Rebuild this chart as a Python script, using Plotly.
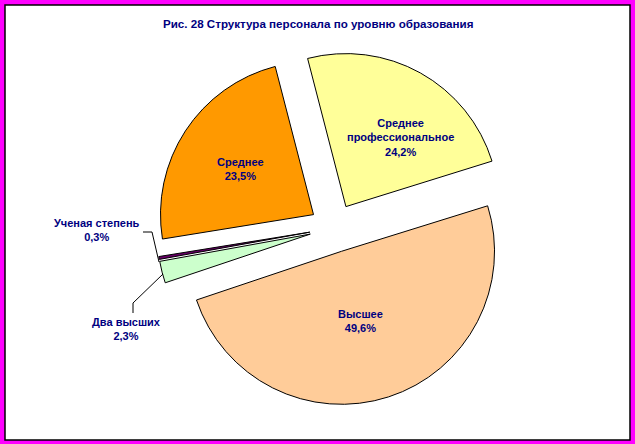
import plotly.graph_objects as go

W, H = 635, 444

categories = ["Среднее профессиональное", "Высшее", "Два высших", "Ученая степень", "Среднее"]
values = [24.2, 49.6, 2.3, 0.3, 23.5]
colors = ["#FFFF99", "#FFCC99", "#CCFFCC", "#660066", "#FF9900"]
label_lines = [["Среднее", "профессиональное"], ["Высшее"], ["Два высших"], ["Ученая степень"], ["Среднее"]]
title_text = "Рис. 28 Структура персонала по уровню образования"

NAVY = "#000080"
FONT = "Liberation Sans, Arial, sans-serif"

def px(x):
    return x / W

def py(y):
    return 1 - y / H

# pie domain (pixels)
cx, cy, half = 334, 228, 177.5

fig = go.Figure(go.Pie(
    labels=categories,
    values=values,
    sort=False,
    direction="clockwise",
    rotation=-14.5,
    pull=[0.16] * len(values),
    marker=dict(colors=colors, line=dict(color="black", width=1)),
    textinfo="none",
    hoverinfo="label+percent",
    showlegend=False,
    domain=dict(x=[px(cx - half), px(cx + half)], y=[py(cy + half), py(cy - half)]),
))

# label positions (pixels, centre of text block)
label_pos = [(400, 137), (360, 321), (126, 329), (97, 230), (240, 169)]

annotations = []
for lines, v, (lx, ly) in zip(label_lines, values, label_pos):
    txt = "<b>" + "<br>".join(lines + [f"{v:.1f}".replace(".", ",") + "%"]) + "</b>"
    annotations.append(dict(
        x=px(lx), y=py(ly), xref="paper", yref="paper",
        text=txt, showarrow=False, align="center",
        font=dict(family=FONT, size=11, color=NAVY),
        xanchor="center", yanchor="middle",
    ))

annotations.append(dict(
    x=px(317.5), y=py(23), xref="paper", yref="paper", text="<b>" + title_text + "</b>",
    showarrow=False, xanchor="center", yanchor="middle",
    font=dict(family=FONT, size=11.6, color=NAVY),
))

def path(points):
    return "M " + " L ".join(f"{px(a)},{py(b)}" for a, b in points)

shapes = [
    dict(type="rect", xref="paper", yref="paper", x0=px(5), x1=px(630), y0=py(440), y1=py(5),
         fillcolor="white", line=dict(color="black", width=1.5), layer="below"),
    dict(type="path", xref="paper", yref="paper",
         path=path([(143, 232), (152, 232), (159, 262)]), line=dict(color="black", width=1)),
    dict(type="path", xref="paper", yref="paper",
         path=path([(133, 313), (133, 303), (163, 274)]), line=dict(color="black", width=1)),
]

fig.update_layout(
    width=W, height=H,
    margin=dict(l=0, r=0, t=0, b=0),
    paper_bgcolor="#FF00FF",
    plot_bgcolor="white",
    annotations=annotations,
    shapes=shapes,
)

fig.write_html(
    "out.html",
    config={"displayModeBar": False},
    post_script="document.body.style.margin='0';document.body.style.padding='0';document.body.style.overflow='hidden';",
)
